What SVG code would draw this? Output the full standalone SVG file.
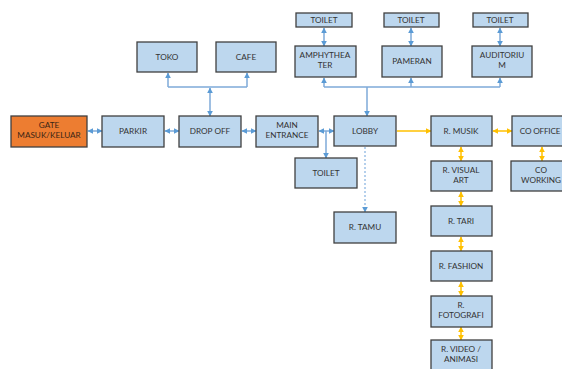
<svg xmlns="http://www.w3.org/2000/svg" width="562" height="369" viewBox="0 0 562 369">
<defs>
<style>
.box{fill:#bdd7ee;stroke:#404040;stroke-width:1.3}
.gate{fill:#ed7d31;stroke:#404040;stroke-width:1.3}
text{font-family:Lato,"Open Sans","Liberation Sans",sans-serif;font-size:8.2px;fill:#333;text-anchor:middle}
.b{fill:none;stroke:#7eaad8;stroke-width:1.5}
.y{fill:none;stroke:#ffc000;stroke-width:1.5}
.d{fill:none;stroke:#9dc1e6;stroke-width:1.5;stroke-dasharray:2 2}
</style>
<marker id="ab" viewBox="0 0 10 10" refX="9" refY="5" markerWidth="6" markerHeight="6" markerUnits="userSpaceOnUse" orient="auto-start-reverse"><path d="M0,0L10,5L0,10z" fill="#5b9bd5"/></marker>
<marker id="ay" viewBox="0 0 10 10" refX="9" refY="5" markerWidth="6" markerHeight="6" markerUnits="userSpaceOnUse" orient="auto-start-reverse"><path d="M0,0L10,5L0,10z" fill="#ffc000"/></marker>
</defs>
<rect width="562" height="369" fill="#fff"/>
<g id="connectors">
<path class="b" d="M168,87H247"/>
<path class="b" d="M168,87V73" marker-end="url(#ab)"/>
<path class="b" d="M247,87V73" marker-end="url(#ab)"/>
<path class="b" d="M210,88V116" marker-start="url(#ab)" marker-end="url(#ab)"/>
<path class="b" d="M324,87H500"/>
<path class="b" d="M324,87V78" marker-end="url(#ab)"/>
<path class="b" d="M411,87V78" marker-end="url(#ab)"/>
<path class="b" d="M500,87V78" marker-end="url(#ab)"/>
<path class="b" d="M367,87V116" marker-end="url(#ab)"/>
<path class="b" d="M324,28V46" marker-start="url(#ab)" marker-end="url(#ab)"/>
<path class="b" d="M411,28V46" marker-start="url(#ab)" marker-end="url(#ab)"/>
<path class="b" d="M500,28V46" marker-start="url(#ab)" marker-end="url(#ab)"/>
<path class="b" d="M88,131H102" marker-start="url(#ab)" marker-end="url(#ab)"/>
<path class="b" d="M165,131H179" marker-start="url(#ab)" marker-end="url(#ab)"/>
<path class="b" d="M242,131H256" marker-start="url(#ab)" marker-end="url(#ab)"/>
<path class="b" d="M319,131H334" marker-start="url(#ab)" marker-end="url(#ab)"/>
<path class="b" d="M326,131V158" marker-end="url(#ab)"/>
<path class="d" d="M365,147V212" marker-end="url(#ab)"/>
<path class="y" d="M397,131H431" marker-end="url(#ay)"/>
<path class="y" d="M493,131H512" marker-start="url(#ay)" marker-end="url(#ay)"/>
<path class="y" d="M542,147V161" marker-start="url(#ay)" marker-end="url(#ay)"/>
<path class="y" d="M461,147V161" marker-start="url(#ay)" marker-end="url(#ay)"/>
<path class="y" d="M461,192V206" marker-start="url(#ay)" marker-end="url(#ay)"/>
<path class="y" d="M461,237V251" marker-start="url(#ay)" marker-end="url(#ay)"/>
<path class="y" d="M461,282V296" marker-start="url(#ay)" marker-end="url(#ay)"/>
<path class="y" d="M461,327V340" marker-start="url(#ay)" marker-end="url(#ay)"/>
</g>
<g id="toko"><rect class="box" x="137" y="42" width="60" height="30"/><text x="167" y="60">TOKO</text></g>
<g id="cafe"><rect class="box" x="216" y="42" width="60" height="30"/><text x="246" y="60">CAFE</text></g>
<g id="toilet1"><rect class="box" x="296" y="13" width="56" height="14"/><text x="324" y="23">TOILET</text></g>
<g id="toilet2"><rect class="box" x="384" y="13" width="55" height="14"/><text x="411" y="23">TOILET</text></g>
<g id="toilet3"><rect class="box" x="473" y="13" width="55" height="14"/><text x="500" y="23">TOILET</text></g>
<g id="amphytheater"><rect class="box" x="295" y="46" width="61" height="31"/><text x="325" y="58">AMPHYTHEA</text><text x="325" y="68">TER</text></g>
<g id="pameran"><rect class="box" x="382" y="46" width="60" height="31"/><text x="412" y="64">PAMERAN</text></g>
<g id="auditorium"><rect class="box" x="472" y="46" width="60" height="31"/><text x="502" y="58">AUDITORIU</text><text x="502" y="68">M</text></g>
<g id="gate"><rect class="gate" x="11" y="116" width="76" height="31"/><text x="49" y="128" style="fill:#3a2515">GATE</text><text x="49" y="138" style="fill:#3a2515">MASUK/KELUAR</text></g>
<g id="parkir"><rect class="box" x="102" y="116" width="62" height="31"/><text x="133" y="134">PARKIR</text></g>
<g id="dropoff"><rect class="box" x="179" y="116" width="62" height="31"/><text x="210" y="134">DROP OFF</text></g>
<g id="mainentrance"><rect class="box" x="256" y="116" width="62" height="31"/><text x="287" y="128">MAIN</text><text x="287" y="138">ENTRANCE</text></g>
<g id="lobby"><rect class="box" x="334" y="116" width="62" height="30"/><text x="365" y="134">LOBBY</text></g>
<g id="toilet4"><rect class="box" x="295" y="158" width="62" height="30"/><text x="326" y="176">TOILET</text></g>
<g id="rtamu"><rect class="box" x="334" y="212" width="62" height="31"/><text x="365" y="230">R. TAMU</text></g>
<g id="rmusik"><rect class="box" x="431" y="116" width="61" height="30"/><text x="461" y="134">R. MUSIK</text></g>
<g id="cooffice"><rect class="box" x="512" y="116" width="62" height="30"/><text x="540" y="134" letter-spacing="-0.2">CO OFFICE</text></g>
<g id="coworking"><rect class="box" x="511" y="161" width="62" height="30"/><text x="541" y="173">CO</text><text x="541" y="183">WORKING</text></g>
<g id="rvisual"><rect class="box" x="431" y="161" width="61" height="30"/><text x="461" y="173">R. VISUAL</text><text x="461" y="183">ART</text></g>
<g id="rtari"><rect class="box" x="431" y="206" width="61" height="30"/><text x="461" y="224">R. TARI</text></g>
<g id="rfashion"><rect class="box" x="431" y="251" width="61" height="30"/><text x="461" y="269">R. FASHION</text></g>
<g id="rfoto"><rect class="box" x="431" y="296" width="61" height="31"/><text x="461" y="308">R.</text><text x="461" y="318">FOTOGRAFI</text></g>
<g id="rvideo"><rect class="box" x="431" y="340" width="61" height="31"/><text x="461" y="352">R. VIDEO /</text><text x="461" y="362">ANIMASI</text></g>
</svg>
